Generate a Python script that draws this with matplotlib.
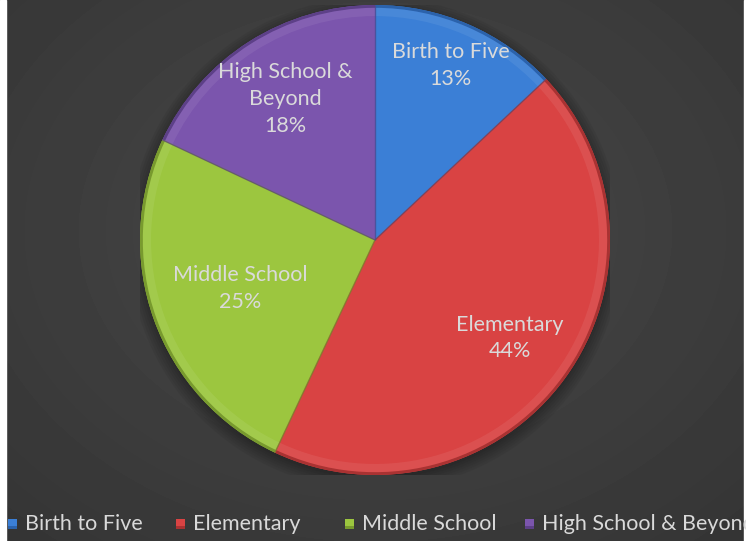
import matplotlib.pyplot as plt
import matplotlib.patches as mpatches
import numpy as np

categories = ['Birth to Five', 'Elementary', 'Middle School', 'High School & Beyond']
label_text = ['Birth to Five', 'Elementary', 'Middle School', 'High School &\nBeyond']
shares = [13, 44, 25, 18]
colors = ['#3b7fd6', '#d94343', '#9cc63f', '#7b55ad']
dark_colors = ['#2b62ab', '#a93232', '#789a2e', '#5d4088']

# how far out each data label sits (fraction of radius), like Excel best fit
label_r = [0.81, 0.71, 0.61, 0.71]

W, H = 746, 541
fig = plt.figure(figsize=(W / 100, H / 100), dpi=100)

# background: dark radial gradient
bg = fig.add_axes([0, 0, 1, 1])
yy, xx = np.mgrid[0:H, 0:W]
d = np.sqrt(((xx - 375) / 520.0) ** 2 + ((yy - 230) / 400.0) ** 2)
grey = 0.285 - 0.075 * np.clip(d, 0, 1.3)
bg.imshow(grey, cmap='gray', vmin=0, vmax=1, extent=[0, W, H, 0], aspect='auto',
          interpolation='bilinear')
bg.add_patch(mpatches.Rectangle((0, 0), 6, H, color='white'))
bg.add_patch(mpatches.Rectangle((W - 2, 0), 2, H, color='white'))
bg.set_xlim(0, W)
bg.set_ylim(H, 0)
bg.axis('off')

cx, cy, r = 375, 240, 235
ax = fig.add_axes([(cx - r) / W, (H - cy - r) / H, 2 * r / W, 2 * r / H])
ax.set_facecolor('none')

# soft shadow under the pie
for k in range(6):
    ax.add_patch(mpatches.Circle((0.0, -0.015), 1.0 + 0.01 * k, color='black',
                                 alpha=0.05, lw=0, zorder=0))

wedges, _ = ax.pie(shares, colors=colors, startangle=90, counterclock=False,
                   wedgeprops=dict(linewidth=0), radius=1.0)

# bevel: darker rim + lighter inner band
for w, c, dc in zip(wedges, colors, dark_colors):
    t1, t2 = w.theta1, w.theta2
    ax.add_patch(mpatches.Wedge((0, 0), 1.0, t1, t2, width=0.012, color=dc, lw=0, zorder=3))
    ax.add_patch(mpatches.Wedge((0, 0), 0.988, t1, t2, width=0.035, color='white',
                                alpha=0.07, lw=0, zorder=3))
    for th in (t1, t2):
        a = np.deg2rad(th)
        ax.plot([0, np.cos(a)], [0, np.sin(a)], color=dc, lw=0.9, alpha=0.6, zorder=4,
                solid_capstyle='butt')

for w, name, v, lr in zip(wedges, label_text, shares, label_r):
    mid = np.deg2rad((w.theta1 + w.theta2) / 2)
    ax.text(lr * np.cos(mid), lr * np.sin(mid), f'{name}\n{v}%', ha='center', va='center',
            fontsize=15.5, family='Lato', color='#dadada', linespacing=1.42, zorder=5)

ax.set_xlim(-1, 1)
ax.set_ylim(-1, 1)
ax.set_aspect('auto')
ax.axis('off')

# legend along the bottom, running off the right edge (as in the original)
leg_x = [8, 176, 345, 525]
leg_y = 524
for x, c, dc, name in zip(leg_x, colors, dark_colors, categories):
    bg.add_patch(mpatches.Rectangle((x, leg_y - 5), 9, 10, color=c, lw=0))
    bg.add_patch(mpatches.Rectangle((x, leg_y + 2), 9, 3, color=dc, lw=0))
    bg.text(x + 17, leg_y, name, ha='left', va='center', fontsize=15.5, family='Lato',
            color='#d9d9d9')

fig.savefig('out.png', dpi=100)
